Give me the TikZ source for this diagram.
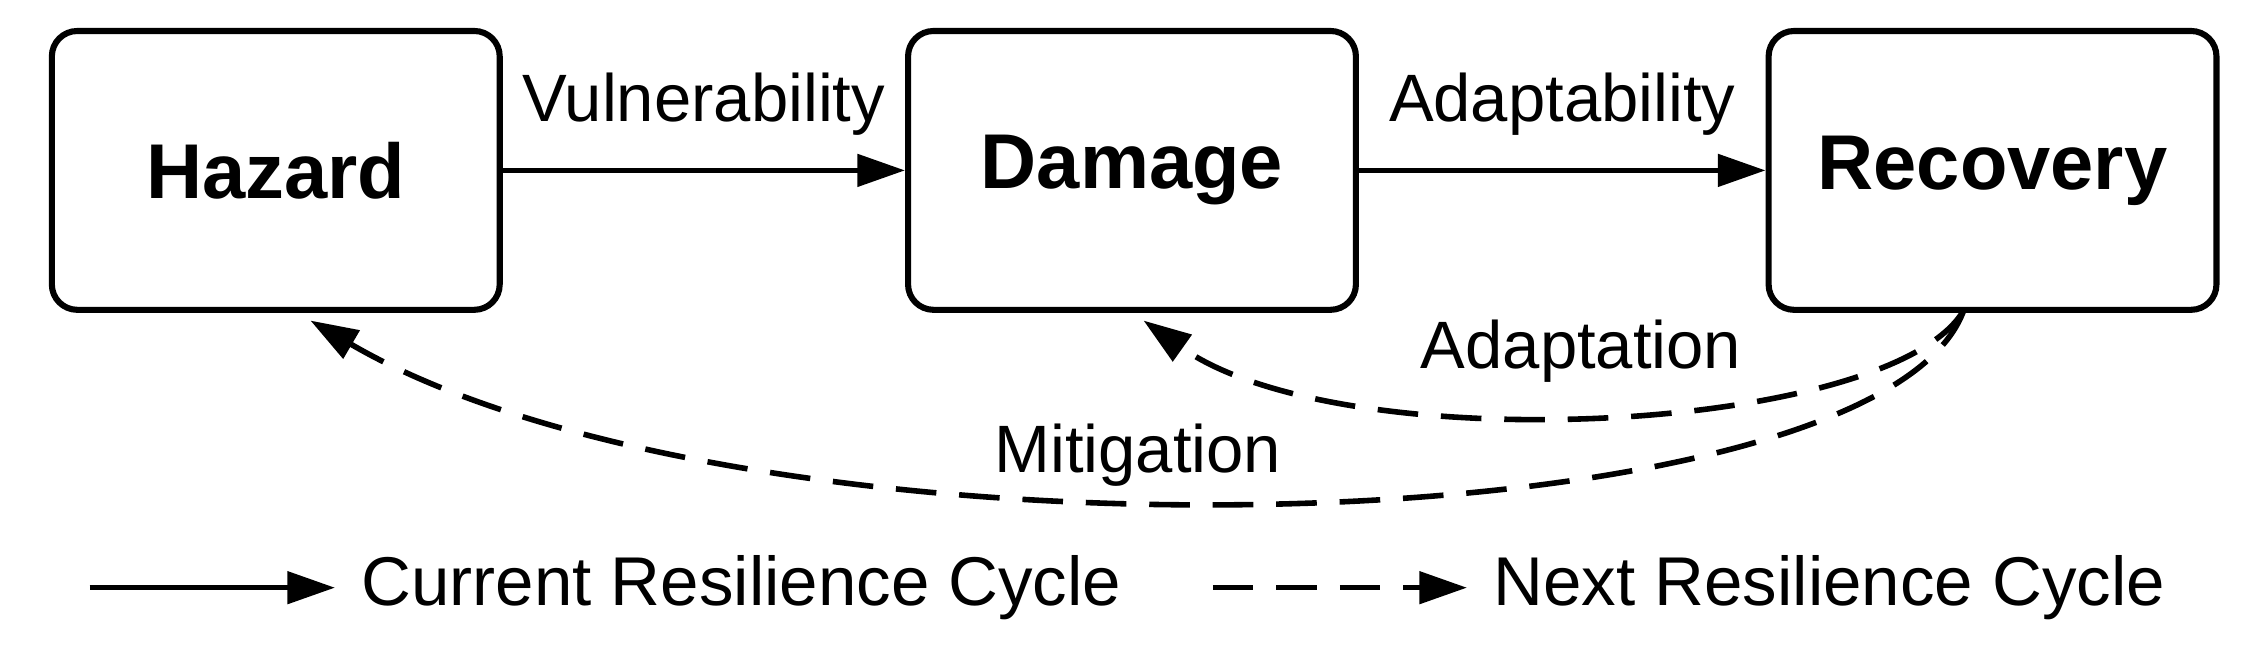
\documentclass[tikz,border=0pt]{standalone}
\usepackage{fontspec}
\setmainfont{Liberation Sans}
\usetikzlibrary{arrows.meta}
\begin{document}
\begin{tikzpicture}[x=0.01cm,y=-0.01cm,
 box/.style={draw,line width=1.2pt,rounded corners=5pt,minimum width=3.1cm,minimum height=1.93cm,font=\bfseries\fontsize{15.3}{18}\selectfont},
 lab/.style={font=\fontsize{13.2}{16}\selectfont},
 leg/.style={font=\fontsize{13.6}{16}\selectfont},
 arr/.style={line width=1.1pt,-{Triangle[length=0.33cm,width=0.22cm]}},
 dsh/.style={arr,dash pattern=on 8pt off 4.5pt}]
\useasboundingbox (0,0) rectangle (1568,450);
\node[box] (H) at (191,118) {Hazard};
\node[box] (D) at (784,118) {Damage};
\node[box] (R) at (1380,118) {Recovery};
\draw[arr] (H) -- node[lab,above=3pt]{Vulnerability} (D);
\draw[arr] (D) -- node[lab,above=3pt]{Adaptability} (R);
\coordinate (s) at (1360,215);
\coordinate (ed) at (792,222);
\coordinate (eh) at (215,222);
\draw[dsh] (s) .. controls (1310,300) and (930,320) .. (ed);
\draw[dsh] (s) .. controls (1300,380) and (520,400) .. (eh);
\node[lab] (a) at (1095,243) {Adaptation};
\node[lab] (m) at (788,315) {Mitigation};
\coordinate (l1a) at (62,407); \coordinate (l1b) at (232,407);
\coordinate (l2a) at (840,407); \coordinate (l2b) at (1016,407);
\draw[arr] (l1a) -- (l1b);
\node[leg,anchor=west] (t1) at (238,407) {Current Resilience Cycle};
\draw[dsh] (l2a) -- (l2b);
\node[leg,anchor=west] (t2) at (1022,407) {Next Resilience Cycle};
\end{tikzpicture}
\end{document}
